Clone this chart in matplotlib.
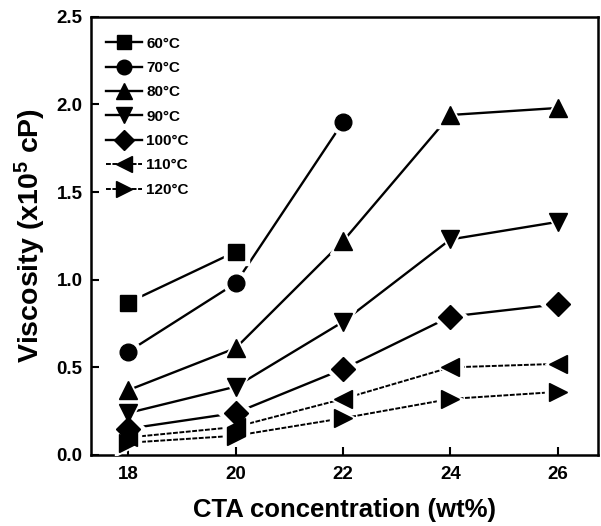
import matplotlib
matplotlib.use("Agg")
import matplotlib.pyplot as plt
from matplotlib.lines import Line2D

plt.rcParams['font.family'] = ['Liberation Sans', 'DejaVu Sans']
plt.rcParams['font.weight'] = 'bold'
plt.rcParams['mathtext.fontset'] = 'custom'
plt.rcParams['mathtext.rm'] = 'Liberation Sans:bold'
plt.rcParams['mathtext.bf'] = 'Liberation Sans:bold'
plt.rcParams['mathtext.default'] = 'bf'

conc = [18, 20, 22, 24, 26]
temps = ["60°C", "70°C", "80°C", "90°C", "100°C", "110°C", "120°C"]
v60 = [0.87, 1.16]
v70 = [0.59, 0.98, 1.90]
v80 = [0.37, 0.61, 1.22, 1.94, 1.98]
v90 = [0.24, 0.39, 0.76, 1.23, 1.33]
v100 = [0.15, 0.24, 0.49, 0.79, 0.86]
v110 = [0.10, 0.16, 0.32, 0.50, 0.52]
v120 = [0.07, 0.11, 0.21, 0.32, 0.36]
series = [v60, v70, v80, v90, v100, v110, v120]
xticks = [18, 20, 22, 24, 26]
yticks = [0.0, 0.5, 1.0, 1.5, 2.0, 2.5]

markers = ['s', 'o', '^', 'v', 'D', '<', '>']
sizes = [12, 12, 13, 13, 12, 13, 13]
styles = ['-', '-', '-', '-', '-', (0, (2.5, 0.8)), (0, (2.5, 0.8))]
lws = [1.7, 1.7, 1.7, 1.7, 1.7, 1.4, 1.4]

fig = plt.figure(figsize=(6.01, 5.26), dpi=100)
ax = fig.add_axes([0.151, 0.135, 0.844, 0.833])

for vals, m, s, ls, lw in zip(series, markers, sizes, styles, lws):
    xs = conc[:len(vals)]
    ax.plot(xs, vals, linestyle=ls, color='black', lw=lw, zorder=2)
    ax.plot(xs, vals, linestyle='none', marker=m, ms=s + 6, mfc='white',
            mec='white', zorder=3)
for vals, m, s in zip(series, markers, sizes):
    xs = conc[:len(vals)]
    ax.plot(xs, vals, linestyle='none', marker=m, ms=s, mfc='black',
            mec='black', zorder=4)

handles = [Line2D([], [], color='black', lw=lw, linestyle=ls, marker=m,
                  ms=s - 1.5, mfc='black', mec='black')
           for m, s, ls, lw in zip(markers, sizes, styles, lws)]
leg = ax.legend(handles, temps, loc='upper left', frameon=False,
                handlelength=2.35, handletextpad=0.3,
                labelspacing=0.68, borderaxespad=0.0, borderpad=0.0,
                bbox_to_anchor=(0.03, 0.955),
                prop={'weight': 'bold', 'size': 11})

ax.set_xlim(17.3, 26.75)
ax.set_ylim(0, 2.5)
ax.set_xticks(xticks)
ax.set_yticks(yticks)
ax.set_xticklabels([str(t) for t in xticks])
ax.set_yticklabels([f"{t:.1f}" for t in yticks])
ax.tick_params(direction='in', length=6, width=1.5, labelsize=13.5)
ax.tick_params(axis='y', pad=6)
ax.tick_params(axis='x', pad=8)
for sp in ax.spines.values():
    sp.set_linewidth(1.8)

ax.set_xlabel("CTA concentration (wt%)", fontsize=18.5, fontweight='bold', labelpad=11)
ax.set_ylabel("Viscosity (x10$^5$ cP)", fontsize=20.5, fontweight='bold', labelpad=6)

fig.savefig("out.png", dpi=100)
